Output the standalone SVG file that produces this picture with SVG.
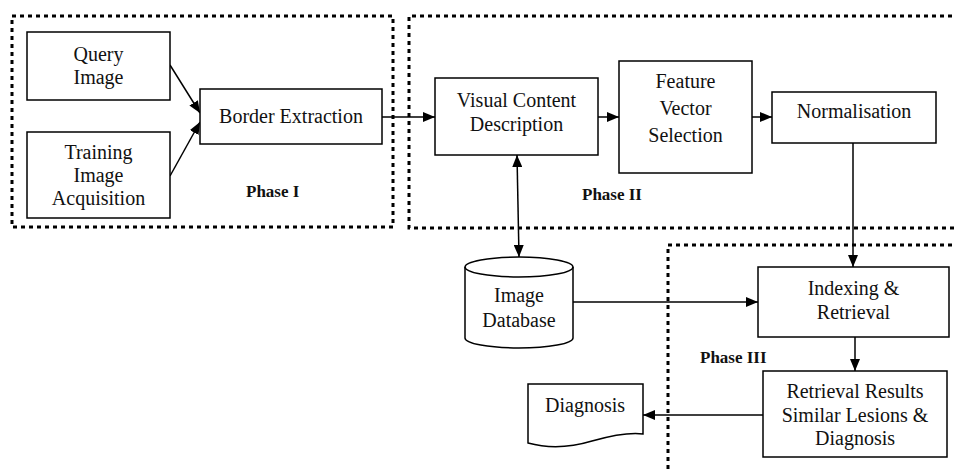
<svg xmlns="http://www.w3.org/2000/svg" width="955" height="470" viewBox="0 0 955 470">
<style>
  .box { fill: #fff; stroke: #000; stroke-width: 1.5; }
  .phase { fill: none; stroke: #000; stroke-width: 3; stroke-dasharray: 4 4; }
  .t { font-family: 'Liberation Serif', 'Times New Roman', Tinos, 'DejaVu Serif', serif; font-size: 20px; fill: #111; text-anchor: middle; }
  .pl { font-family: 'Liberation Serif', 'Times New Roman', Tinos, 'DejaVu Serif', serif; font-size: 17px; font-weight: bold; fill: #111; }
  .c { fill: none; stroke: #000; stroke-width: 1.5; }
</style>
<defs>
  <marker id="ah" markerUnits="userSpaceOnUse" markerWidth="13" markerHeight="10" refX="12" refY="5" orient="auto">
    <path d="M0,0 L12,5 L0,10 Z" fill="#000"/>
  </marker>
  <marker id="as" markerUnits="userSpaceOnUse" markerWidth="13" markerHeight="10" refX="12" refY="5" orient="auto-start-reverse">
    <path d="M0,0 L12,5 L0,10 Z" fill="#000"/>
  </marker>
</defs>
<rect width="955" height="470" fill="#fff"/>

<g id="phase1">
  <rect class="phase" x="12" y="16" width="381" height="211"/>
  <text class="pl" x="246" y="197">Phase I</text>
</g>
<g id="phase2">
  <path class="phase" d="M960,16 H409 V228 H960"/>
  <text class="pl" x="582" y="200">Phase II</text>
</g>
<g id="phase3">
  <path class="phase" d="M960,245 H668 V475"/>
  <text class="pl" x="700" y="363">Phase III</text>
</g>

<g id="connectors">
  <line class="c" x1="170" y1="65" x2="200" y2="113" marker-end="url(#ah)"/>
  <line class="c" x1="170" y1="176" x2="200" y2="122" marker-end="url(#ah)"/>
  <line class="c" x1="382" y1="117" x2="435" y2="117" marker-end="url(#ah)"/>
  <line class="c" x1="598" y1="117" x2="619" y2="117" marker-end="url(#ah)"/>
  <line class="c" x1="752" y1="117" x2="772" y2="117" marker-end="url(#ah)"/>
  <line class="c" x1="853" y1="143" x2="853" y2="267" marker-end="url(#ah)"/>
  <line class="c" x1="517" y1="155" x2="519" y2="257" marker-start="url(#as)" marker-end="url(#ah)"/>
  <line class="c" x1="573" y1="302" x2="758" y2="302" marker-end="url(#ah)"/>
  <line class="c" x1="855" y1="337" x2="855" y2="371" marker-end="url(#ah)"/>
  <line class="c" x1="763" y1="415" x2="643" y2="415" marker-end="url(#ah)"/>
</g>

<g id="query-image">
  <rect class="box" x="27" y="32" width="143" height="68"/>
  <text class="t" x="98.5" y="61">Query</text>
  <text class="t" x="98.5" y="84">Image</text>
</g>
<g id="training-image">
  <rect class="box" x="27" y="132" width="143" height="86"/>
  <text class="t" x="98.5" y="159">Training</text>
  <text class="t" x="98.5" y="182">Image</text>
  <text class="t" x="98.5" y="205">Acquisition</text>
</g>
<g id="border-extraction">
  <rect class="box" x="200" y="89" width="182" height="55"/>
  <text class="t" x="291" y="123">Border Extraction</text>
</g>
<g id="visual-content">
  <rect class="box" x="435" y="78" width="163" height="77"/>
  <text class="t" x="516.5" y="107">Visual Content</text>
  <text class="t" x="516.5" y="131">Description</text>
</g>
<g id="feature-vector">
  <rect class="box" x="619" y="61" width="133" height="112"/>
  <text class="t" x="685.5" y="88">Feature</text>
  <text class="t" x="685.5" y="115">Vector</text>
  <text class="t" x="685.5" y="142">Selection</text>
</g>
<g id="normalisation">
  <rect class="box" x="772" y="92" width="164" height="51"/>
  <text class="t" x="854" y="118">Normalisation</text>
</g>
<g id="image-database">
  <path class="box" d="M465,267 V338 A54,10 0 0 0 573,338 V267 A54,10 0 0 0 465,267 Z"/>
  <path class="c" d="M465,267 A54,10 0 0 0 573,267"/>
  <text class="t" x="519" y="302">Image</text>
  <text class="t" x="519" y="327">Database</text>
</g>
<g id="indexing">
  <rect class="box" x="758" y="267" width="191" height="70"/>
  <text class="t" x="853.5" y="295">Indexing &amp;</text>
  <text class="t" x="853.5" y="319">Retrieval</text>
</g>
<g id="retrieval-results">
  <rect class="box" x="763" y="371" width="184" height="86"/>
  <text class="t" x="855" y="398">Retrieval Results</text>
  <text class="t" x="855" y="422">Similar Lesions &amp;</text>
  <text class="t" x="855" y="445">Diagnosis</text>
</g>
<g id="diagnosis">
  <path class="box" d="M528,384 H643 V434 C628,432 610,436 592,441 C572,447 550,449 528,443 Z"/>
  <text class="t" x="585" y="412">Diagnosis</text>
</g>
</svg>
